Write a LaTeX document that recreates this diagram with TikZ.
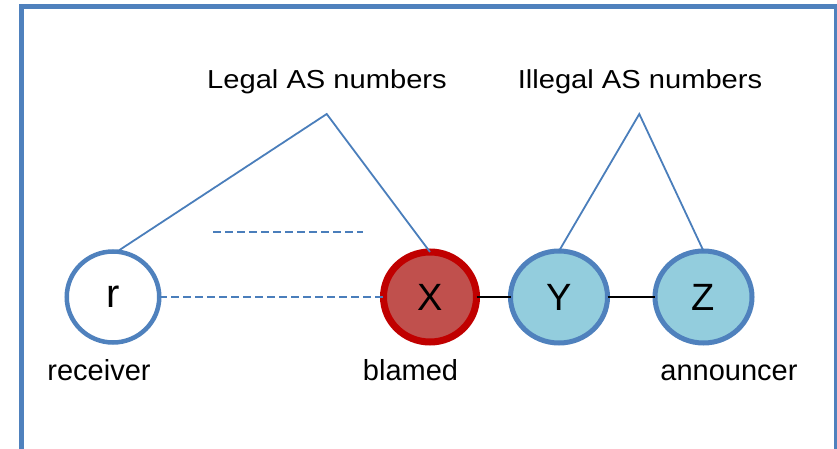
\documentclass[tikz,border=0pt]{standalone}
\usepackage{fontspec}
\setmainfont{Liberation Sans}
\usetikzlibrary{shapes.geometric}
\definecolor{frameblue}{HTML}{4F81BD}
\definecolor{lineblue}{HTML}{4A7EBB}
\definecolor{xfill}{HTML}{C0504D}
\definecolor{xborder}{HTML}{C00000}
\definecolor{yzfill}{HTML}{93CDDD}
\begin{document}
\begin{tikzpicture}[x=1pt,y=-1pt,
  asnode/.style={ellipse,inner sep=0pt,outer sep=0pt,font=\fontsize{38}{42}\selectfont},
  noder/.style={asnode,draw=frameblue,fill=white,line width=4.5pt,minimum width=92.5pt,minimum height=91pt},
  nodex/.style={asnode,draw=xborder,fill=xfill,line width=7pt,minimum width=93pt,minimum height=90pt},
  nodeyz/.style={asnode,draw=frameblue,fill=yzfill,line width=5pt,minimum width=97pt,minimum height=92pt},
  lbl/.style={inner sep=0pt,anchor=base,font=\fontsize{29}{32}\selectfont},
  ttl/.style={inner sep=0pt,anchor=base,font=\fontsize{26}{30}\selectfont},
  thinblue/.style={draw=lineblue,line width=1.8pt},
  dashblue/.style={draw=lineblue,line width=2pt,dash pattern=on 8pt off 4pt},
  blackline/.style={draw=black,line width=2pt}]
\useasboundingbox (0,0) rectangle (837,449);
\clip (0,0) rectangle (837,449);
\draw[frameblue,line width=5pt] (21.7,6.7) rectangle (836.7,470);

\node[noder] (r) at (113,297) {\fontsize{40}{44}\selectfont r};
\node[nodex] (X) at (430,297) {X};
\node[nodeyz] (Y) at (559,297) {Y};
\node[nodeyz] (Z) at (703.5,297) {Z};

\node[lbl] (lrec) at (99,380.7) {receiver};
\node[lbl] (lblamed) at (410.5,380.7) {blamed};
\node[lbl] (lann) at (729,380.7) {announcer};

\node[ttl] (legal) at (327,88.3) {\scalebox{1.12}[1]{Legal AS numbers}};
\node[ttl] (illegal) at (640,88.3) {\scalebox{1.12}[1]{Illegal AS numbers}};

\coordinate (la) at (326.7,114);
\coordinate (ia) at (639.3,114);
\draw[thinblue] (r.85) -- (la) -- (X.north);
\draw[thinblue] (Y.north) -- (ia) -- (Z.north);

\draw[dashblue] (r.east) -- (X.west);
\coordinate (d1) at (213,232);
\coordinate (d2) at (363,232);
\draw[dashblue] (d1) -- (d2);

\draw[blackline] (X.east) -- (Y.west);
\draw[blackline] (Y.east) -- (Z.west);
\end{tikzpicture}
\end{document}
